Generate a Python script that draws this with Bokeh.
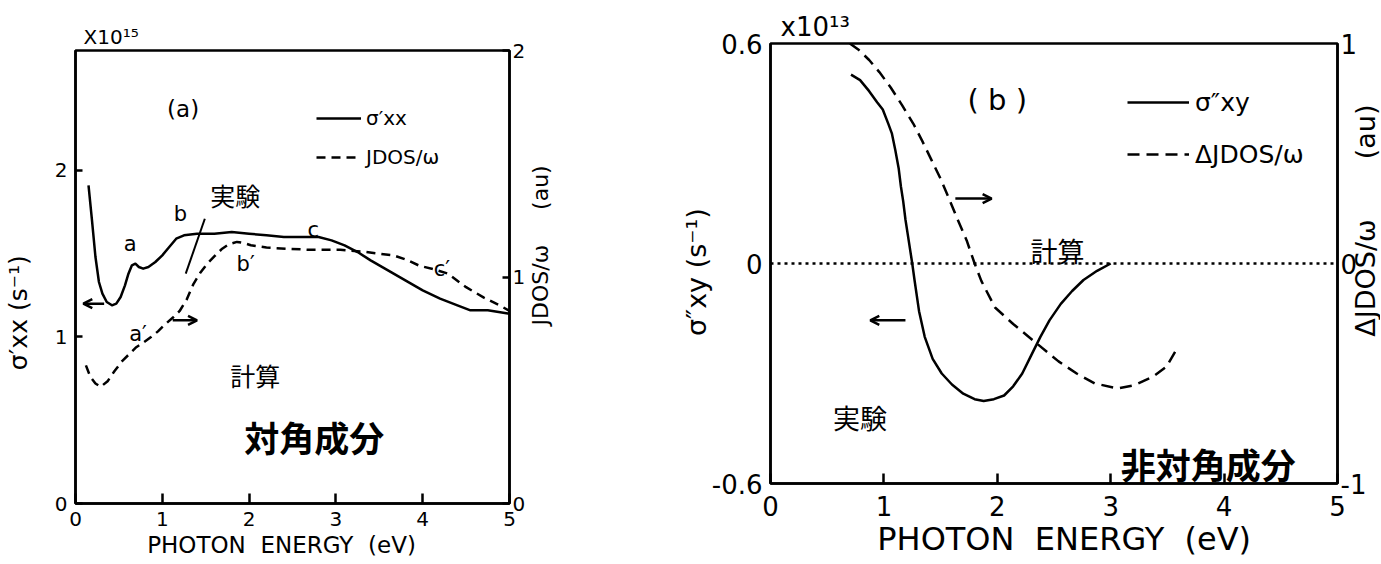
import math
from bokeh.plotting import figure
from bokeh.models import (Range1d, LinearAxis, Label, Legend, LegendItem, Arrow,
                          OpenHead, FixedTicker, Span, Title)
from bokeh.layouts import row
from bokeh.embed import file_html
from bokeh.resources import INLINE

# ---------------- data ----------------
# panel (a): diagonal component  (sigma'_xx in 1e15 s^-1 ; JDOS/omega in au)
a_energy_sigma = [0.15, 0.19, 0.23, 0.27, 0.31, 0.36, 0.42, 0.47, 0.52, 0.57,
                  0.61, 0.65, 0.69, 0.73, 0.78, 0.84, 0.92, 1.00, 1.08, 1.16,
                  1.25, 1.40, 1.60, 1.80, 2.00, 2.20, 2.40, 2.60, 2.80, 2.95,
                  3.10, 3.25, 3.40, 3.60, 3.80, 4.00, 4.20, 4.40, 4.55, 4.75, 5.00]
a_sigma_xx = [1.91, 1.70, 1.48, 1.33, 1.26, 1.21, 1.19, 1.20, 1.24, 1.31,
              1.38, 1.43, 1.44, 1.42, 1.41, 1.42, 1.45, 1.49, 1.54, 1.59,
              1.61, 1.62, 1.62, 1.63, 1.62, 1.61, 1.60, 1.60, 1.60, 1.58,
              1.55, 1.51, 1.46, 1.40, 1.34, 1.28, 1.23, 1.19, 1.16, 1.16, 1.14]
a_energy_jdos = [0.12, 0.17, 0.23, 0.29, 0.37, 0.45, 0.54, 0.62, 0.70, 0.78,
                 0.87, 0.95, 1.03, 1.12, 1.20, 1.28, 1.36, 1.44, 1.52, 1.61,
                 1.69, 1.77, 1.86, 1.94, 2.02, 2.20, 2.43, 2.70, 3.05, 3.35,
                 3.67, 3.82, 3.96, 4.12, 4.29, 4.50, 4.70, 4.91, 5.00]
a_jdos_w = [0.61, 0.56, 0.53, 0.515, 0.54, 0.585, 0.63, 0.66, 0.69, 0.71,
            0.735, 0.76, 0.79, 0.82, 0.85, 0.90, 0.97, 1.02, 1.06, 1.095,
            1.125, 1.145, 1.155, 1.15, 1.14, 1.13, 1.125, 1.12, 1.12, 1.11,
            1.095, 1.075, 1.05, 1.035, 1.015, 0.955, 0.91, 0.87, 0.85]

# panel (b): off-diagonal component (sigma''_xy in 1e13 s^-1 ; dJDOS/omega in au)
b_energy_sigma = [0.71, 0.79, 0.87, 0.94, 0.99, 1.04, 1.07, 1.10, 1.13, 1.15,
                  1.17, 1.19, 1.21, 1.25, 1.27, 1.31, 1.36, 1.43, 1.51, 1.60,
                  1.70, 1.80, 1.88, 1.97, 2.06, 2.14, 2.22, 2.30, 2.38, 2.46,
                  2.56, 2.66, 2.76, 2.88, 3.00]
b_sigma_xy = [0.515, 0.50, 0.47, 0.44, 0.42, 0.38, 0.355, 0.31, 0.26, 0.21,
              0.17, 0.12, 0.08, 0.0, -0.045, -0.13, -0.20, -0.26, -0.30, -0.33,
              -0.355, -0.37, -0.375, -0.37, -0.36, -0.335, -0.30, -0.25, -0.20, -0.155,
              -0.11, -0.075, -0.045, -0.02, 0.0]
b_energy_djdos = [0.70, 0.78, 0.87, 0.96, 1.06, 1.16, 1.26, 1.34, 1.42, 1.50,
                  1.57, 1.65, 1.73, 1.80, 1.86, 1.98, 2.14, 2.34, 2.54, 2.70,
                  2.86, 3.06, 3.21, 3.37, 3.49, 3.57]
b_djdos_w = [1.00, 0.97, 0.925, 0.87, 0.80, 0.72, 0.635, 0.555, 0.47, 0.385,
             0.30, 0.20, 0.105, 0.0, -0.08, -0.20, -0.275, -0.36, -0.445, -0.50,
             -0.545, -0.568, -0.553, -0.515, -0.47, -0.40]

# axes
x_ticks = [0, 1, 2, 3, 4, 5]
a_left_ticks = [0, 1, 2]
a_right_ticks = [0, 1, 2]
b_left_ticks = [-0.6, 0, 0.6]
b_left_labels = {-0.6: "-0.6", 0: "0", 0.6: "0.6"}
b_right_ticks = [-1, 0, 1]
b_right_labels = {-1: "-1", 0: "0", 1: "1"}

NB = "\u00a0"
x_title = "PHOTON" + NB * 2 + "ENERGY" + NB * 2 + "(eV)"
a_x_title = x_title + NB * 3
b_x_title = NB * 2 + x_title
a_left_title = "σ\u2032xx" + NB + "(s\u207b\u00b9)" + NB * 9
a_right_title = "JDOS/ω" + NB * 5 + "(au)"
b_left_title = "σ\u2033xy" + NB + "(s\u207b\u00b9)" + NB * 2
b_right_title = "ΔJDOS/ω" + NB * 7 + "(au)"

# ---------------- annotation placement (data units) ----------------
FONT = "DejaVu Sans"
JP = "Noto Sans CJK JP"
# (text, x, y, size px, font, style)
a_texts = [("(a)", 1.24, 2.37, 23, FONT, "normal"),
           ("a", 0.63, 1.56, 21, FONT, "normal"),
           ("b", 1.21, 1.74, 21, FONT, "normal"),
           ("c", 2.74, 1.64, 21, FONT, "normal"),
           ("a\u2032", 0.72, 1.02, 21, FONT, "normal"),
           ("b\u2032", 1.96, 1.44, 21, FONT, "normal"),
           ("c\u2032", 4.22, 1.41, 21, FONT, "normal"),
           ("実験", 1.84, 1.85, 25, JP, "normal"),
           ("計算", 2.07, 0.77, 25, JP, "normal"),
           ("対角成分", 2.75, 0.40, 35, JP, "bold")]
a_leader = ([1.49], [1.71], [1.27], [1.38])
a_arrows = [(0.33, 1.20, 0.09, 1.20), (1.12, 1.10, 1.40, 1.10)]
a_right_title_pos = (5.36, 1.55)

b_texts = [("(" + NB + "b" + NB + ")", 2.0, 0.445, 29, FONT, "normal"),
           ("計算", 2.53, 0.035, 27, JP, "normal"),
           ("実験", 0.79, -0.42, 27, JP, "normal"),
           ("非対角成分", 3.86, -0.545, 35, JP, "bold")]
b_arrows = [(1.63, 0.177, 1.95, 0.177), (1.19, -0.155, 0.88, -0.155)]
b_right_title_pos = (5.25, 0.117)

LW = 2.5


def base_fig(width, height, xr, yr, borders):
    p = figure(width=width, height=height, x_range=xr, y_range=yr,
               output_backend="svg", toolbar_location=None,
               min_border_left=borders[0], min_border_right=borders[1],
               min_border_top=borders[2], min_border_bottom=borders[3])
    try:
        p.frame_align = False
    except Exception:
        pass
    p.grid.visible = False
    p.outline_line_color = "black"
    p.outline_line_width = LW
    p.outline_line_alpha = 1.0
    p.background_fill_color = "white"
    p.border_fill_color = "white"
    return p


def style_axis(ax, ticks, size, tick_in, standoff, overrides=None):
    ax.ticker = FixedTicker(ticks=ticks)
    ax.axis_line_color = "black"
    ax.axis_line_width = LW
    ax.major_tick_line_color = "black"
    ax.major_tick_line_width = LW
    ax.major_tick_in = tick_in
    ax.major_tick_out = 0
    ax.minor_tick_line_color = None
    ax.major_label_text_font = FONT
    ax.major_label_text_font_size = f"{size}px"
    ax.major_label_text_color = "black"
    ax.major_label_standoff = standoff
    if overrides:
        ax.major_label_overrides = overrides


def set_title(ax, text, size, standoff):
    ax.axis_label = text
    ax.axis_label_text_font = FONT
    ax.axis_label_text_font_size = f"{size}px"
    ax.axis_label_text_font_style = "normal"
    ax.axis_label_text_color = "black"
    ax.axis_label_standoff = standoff


def add_text(p, text, x, y, size, font=FONT, style="normal", angle=0.0,
             place=None):
    lab = Label(x=x, y=y, text=text, text_font=font,
                text_font_size=f"{size}px", text_font_style=style,
                text_color="black", text_align="center",
                text_baseline="middle", angle=angle)
    if place is None:
        p.add_layout(lab)
    else:
        p.add_layout(lab, place)


def add_arrow(p, xs, ys, xe, ye):
    p.add_layout(Arrow(end=OpenHead(size=9, line_width=LW, line_color="black"),
                       x_start=xs, y_start=ys, x_end=xe, y_end=ye,
                       line_width=LW, line_color="black"))


def add_multiplier(p, text, size, offset, standoff):
    p.add_layout(Title(text=text, align="left", offset=offset, standoff=standoff,
                       text_font=FONT, text_font_size=f"{size}px",
                       text_font_style="normal", text_color="black"), "above")


# ======================= panel (a) =======================
pa = base_fig(630, 564, Range1d(0, 5), Range1d(0, 2.72), (75, 121, 50, 61))
pa.extra_y_ranges = {"jdos": Range1d(0, 2)}
ra = LinearAxis(y_range_name="jdos")
pa.add_layout(ra, "right")

xa = pa.below[0]
style_axis(xa, x_ticks, 20, 10, 8)
set_title(xa, a_x_title, 23, 3)

la = pa.left[0]
style_axis(la, a_left_ticks, 20, 7, 8)
set_title(la, a_left_title, 25, 19)
style_axis(ra, a_right_ticks, 20, 7, 3)

s1 = pa.line(a_energy_sigma, a_sigma_xx, line_color="black", line_width=LW,
             line_join="round")
s2 = pa.line(a_energy_jdos, a_jdos_w, y_range_name="jdos", line_color="black",
             line_width=LW, line_dash="9 6")

leg_a = Legend(items=[LegendItem(label="σ\u2032xx", renderers=[s1]),
                      LegendItem(label="JDOS/ω", renderers=[s2])],
               location=(241, 334), border_line_color=None,
               background_fill_alpha=0, padding=0, margin=0, spacing=15,
               glyph_width=45, glyph_height=22, label_height=22,
               label_standoff=5, label_text_font=FONT,
               label_text_font_size="20px", label_text_color="black")
pa.add_layout(leg_a)

for t, x, y, sz, f, st in a_texts:
    add_text(pa, t, x, y, sz, f, st)
pa.segment(x0=a_leader[0], y0=a_leader[1], x1=a_leader[2], y1=a_leader[3],
           line_color="black", line_width=2)
for xs, ys, xe, ye in a_arrows:
    add_arrow(pa, xs, ys, xe, ye)
add_multiplier(pa, "X10\u00b9\u2075", 20, 8, 4)
add_text(pa, a_right_title, a_right_title_pos[0], a_right_title_pos[1], 22,
         angle=math.pi / 2, place="right")

# ======================= panel (b) =======================
pb = base_fig(750, 564, Range1d(0, 5), Range1d(-0.6, 0.6), (140, 43, 43, 81))
pb.extra_y_ranges = {"djdos": Range1d(-1, 1)}
rb = LinearAxis(y_range_name="djdos")
pb.add_layout(rb, "right")

xb = pb.below[0]
style_axis(xb, x_ticks, 26, 10, 12)
set_title(xb, b_x_title, 32, 1)

lb = pb.left[0]
style_axis(lb, b_left_ticks, 26, 0, 8, b_left_labels)
set_title(lb, b_left_title, 27, -3)
style_axis(rb, b_right_ticks, 26, 0, 3, b_right_labels)

pb.add_layout(Span(location=0, dimension="width", line_color="black",
                   line_width=LW, line_dash="3 4"))

t1 = pb.line(b_energy_sigma, b_sigma_xy, line_color="black", line_width=LW,
             line_join="round")
t2 = pb.line(b_energy_djdos, b_djdos_w, y_range_name="djdos", line_color="black",
             line_width=LW, line_dash="12 7")

leg_b = Legend(items=[LegendItem(label="σ\u2033xy", renderers=[t1]),
                      LegendItem(label="ΔJDOS/ω", renderers=[t2])],
               location=(357, 314), border_line_color=None,
               background_fill_alpha=0, padding=0, margin=0, spacing=22,
               glyph_width=62, glyph_height=30, label_height=30,
               label_standoff=6, label_text_font=FONT,
               label_text_font_size="25px", label_text_color="black")
pb.add_layout(leg_b)

for t, x, y, sz, f, st in b_texts:
    add_text(pb, t, x, y, sz, f, st)
for xs, ys, xe, ye in b_arrows:
    add_arrow(pb, xs, ys, xe, ye)
add_multiplier(pb, "x10\u00b9\u00b3", 26, 10, 3)
add_text(pb, b_right_title, b_right_title_pos[0], b_right_title_pos[1], 27,
         angle=math.pi / 2, place="left")

layout = row(pa, pb)
open("out.html", "w").write(file_html(layout, INLINE))
